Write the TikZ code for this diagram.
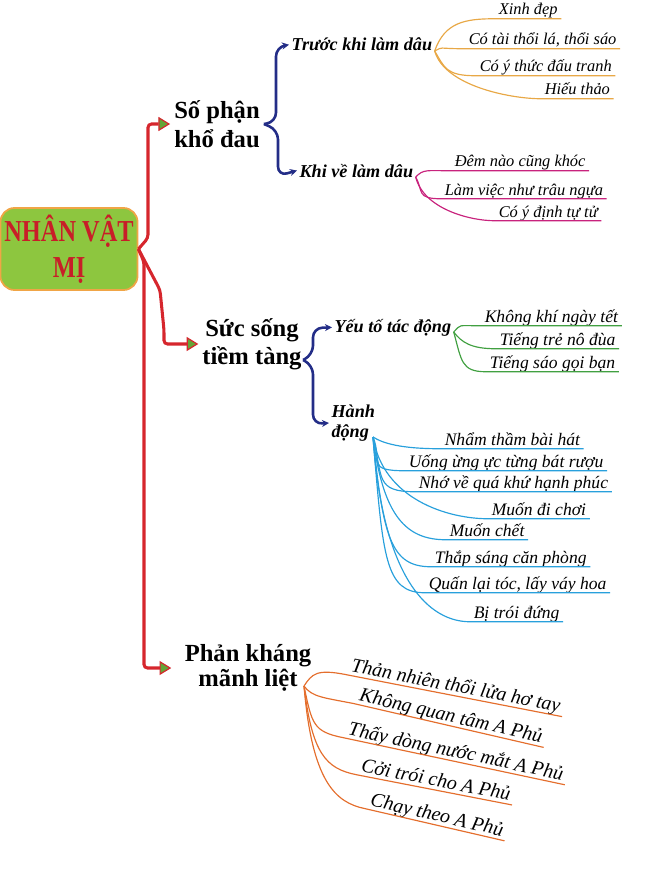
\documentclass[tikz,border=0pt]{standalone}
\usepackage{fontspec}
\setmainfont{Liberation Serif}
\newfontfamily\rootfont[FakeStretch=0.8]{Liberation Serif}
\usetikzlibrary{arrows.meta,calc}
\definecolor{mired}{RGB}{214,38,45}
\definecolor{tipgreen}{RGB}{100,165,55}
\definecolor{migreen}{RGB}{141,198,63}
\definecolor{miorange}{RGB}{240,165,70}
\definecolor{mitext}{RGB}{200,30,40}
\definecolor{miblue}{RGB}{35,45,135}
\definecolor{leaforange}{RGB}{232,168,70}
\definecolor{leafmagenta}{RGB}{200,35,125}
\definecolor{leafgreen}{RGB}{65,160,65}
\definecolor{leafcyan}{RGB}{40,160,220}
\definecolor{leafbrown}{RGB}{228,110,45}

\begin{document}
\begin{tikzpicture}[x=0.03cm,y=-0.03cm,
    redline/.style={line width=2.6pt,mired,rounded corners=3pt,
      -{Triangle[length=10pt,width=12pt,fill=tipgreen,line width=1pt]}},
    bluebrace/.style={line width=2.2pt,miblue,rounded corners=8pt,
      -{Stealth[length=6pt,width=6pt]}},
    branch/.style={font=\bfseries\fontsize{21}{25}\selectfont,align=center},
    sublabel/.style={font=\bfseries\itshape\fontsize{15.5}{17}\selectfont,inner sep=2pt},
    leaf/.style={font=\itshape\fontsize{#1}{#1}\selectfont,text depth=0pt,
      inner xsep=3pt,inner ysep=3pt,anchor=base west},
    twig/.style={line width=1pt,#1}]
    \useasboundingbox (0,0) rectangle (650,874);
    % Root
    \node[draw=miorange,line width=1.5pt,fill=migreen,rounded corners=12pt,
      minimum width=4.02cm,minimum height=2.46cm,align=center,text=mitext,
      font=\rootfont\bfseries\fontsize{26}{31}\selectfont] (mi) at (69,249) {NHÂN VẬT\\MỊ};
    % Branches
    \node[branch] (sp) at (217,124) {Số phận\\khổ đau};
    \node[branch,font=\bfseries\fontsize{21}{24}\selectfont] (ss) at (252,344) {Sức sống\\tiềm tàng};
    \node[branch,font=\bfseries\fontsize{21}{21}\selectfont] (pk) at (248,668) {Phản kháng\\mãnh liệt};
    \draw[redline] (mi.east) -- (148,238) |- (sp.west);
    \draw[redline] (mi.east) -- (160,290) -- (164,330) |- (ss.west);
    \draw[redline,shorten >=8pt] (mi.east) -- (144,262) |- (pk.west);
    % Sub branches
    \node[sublabel,anchor=base west] (tk) at (289,51) {Trước khi làm dâu};
    \node[sublabel,anchor=base west] (kv) at (297,177) {Khi về làm dâu};
    \node[sublabel,anchor=base west] (yt) at (332,332) {Yếu tố tác động};
    \node[sublabel,anchor=west,align=left] (hd) at (329,423) {Hành\\động};
    \coordinate (b2) at (303,360);
    \coordinate (hdf) at (373,437);
    \coordinate (pkf) at (304,686);
    \draw[bluebrace] (sp.east) -- (276,122) -- (276,47) -- (tk.west);
    \draw[bluebrace] (sp.east) -- (278,130) -- (278,176) -- (kv.west);
    \draw[bluebrace] (b2) -- (313,355) -- (313,328) -- (yt.west);
    \draw[bluebrace] (b2) -- (313,365) -- (313,424) -- (hd.west);
    % Leaves
    \foreach \n/\x/\y/\t in {1/495/15/Xinh đẹp,2/465/45/{Có tài thổi lá, thổi sáo},
        3/476/72/Có ý thức đấu tranh,4/541/95/Hiếu thảo} {
      \node[leaf=14] (xd\n) at (\x,\y) {\t};
      \draw[twig=leaforange] (tk.base east) .. controls +(10,{0.8*(\y-51)}) and +(-30,0) .. (xd\n.south west) -- (xd\n.south east);
    }
    \foreach \n/\x/\y/\t in {1/451/167/Đêm nào cũng khóc,2/441/195/Làm việc như trâu ngựa,
        3/495/217/Có ý định tự tử} {
      \node[leaf=14] (dn\n) at (\x,\y) {\t};
      \draw[twig=leafmagenta] (kv.base east) .. controls +(8,{0.8*(\y-177)}) and +(-25,0) .. (dn\n.south west) -- (dn\n.south east);
    }
    \foreach \n/\x/\y/\t in {1/481/322/Không khí ngày tết,2/496/345/Tiếng trẻ nô đùa,
        3/486/368/Tiếng sáo gọi bạn} {
      \node[leaf=15] (kk\n) at (\x,\y) {\t};
      \draw[twig=leafgreen] (yt.base east) .. controls +(8,{0.8*(\y-332)}) and +(-25,0) .. (kk\n.south west) -- (kk\n.south east);
    }
    \foreach \n/\x/\y/\t in {1/441/445/Nhẩm thầm bài hát,2/405/467/Uống ừng ực từng bát rượu,
        3/415/488/Nhớ về quá khứ hạnh phúc,4/488/515/Muốn đi chơi,5/446/536/Muốn chết,
        6/431/563/Thắp sáng căn phòng,7/425/589/{Quấn lại tóc, lấy váy hoa},8/470/618/Bị trói đứng} {
      \node[leaf=15] (nt\n) at (\x,\y) {\t};
      \draw[twig=leafcyan] (hdf) .. controls +(10,{0.8*(\y-437)}) and +(-40,0) .. (nt\n.south west) -- (nt\n.south east);
    }
    \foreach \n/\x/\y/\r/\t in {1/347/671/-11/Thản nhiên thổi lửa hơ tay,2/355/700/-13/Không quan tâm A Phủ,
        3/344/734/-12/Thấy dòng nước mắt A Phủ,4/357/771/-11/Cởi trói cho A Phủ,5/366/805/-13/Chạy theo A Phủ} {
      \node[leaf=17,rotate=\r] (tn\n) at (\x,\y) {\t};
      \draw[twig=leafbrown] (pkf) .. controls +(8,{0.8*(\y-686)}) and +(-30,-6) .. (tn\n.south west) -- (tn\n.south east);
    }
\end{tikzpicture}
\end{document}
